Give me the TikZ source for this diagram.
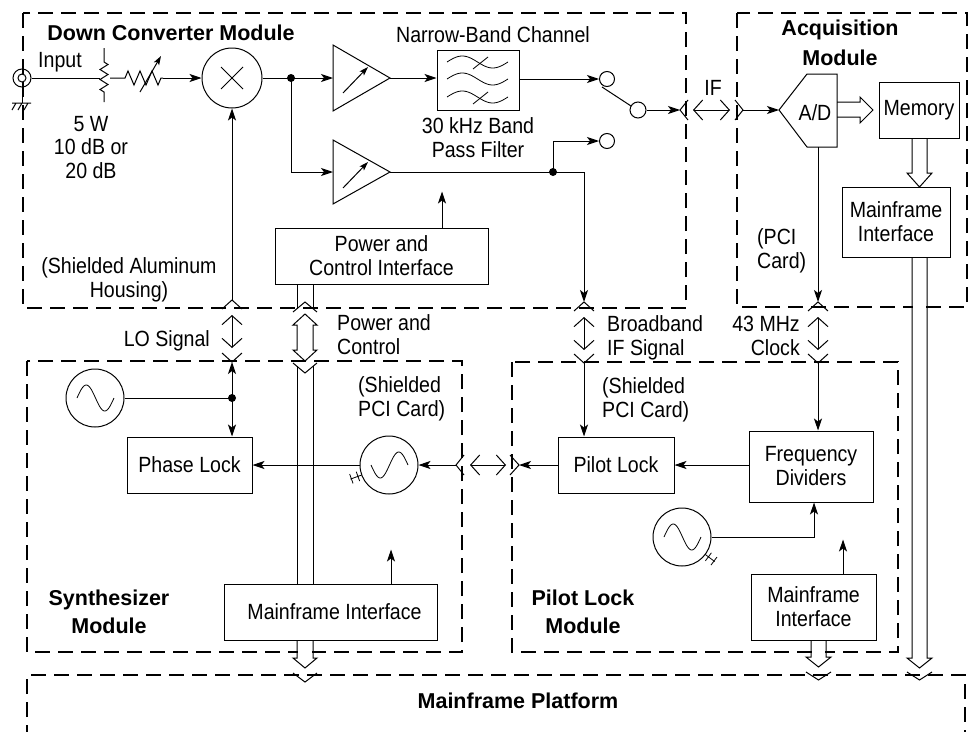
\documentclass[tikz,border=0pt]{standalone}
\usepackage{fontspec}
\setmainfont{Liberation Sans}[FakeStretch=0.89]
\newfontfamily\titlefam{Liberation Sans}
\usetikzlibrary{arrows.meta,calc}
\tikzset{
  ln/.style={line width=1pt},
  sigarr/.style={line width=1pt,-{Stealth[length=12pt,width=8pt,inset=3pt]}},
  smallarr/.style={line width=1pt,-{Stealth[length=9pt,width=6pt,inset=2pt]}},
  biarr/.style={line width=1pt,{Straight Barb[length=9pt,width=20pt]}-{Straight Barb[length=9pt,width=20pt]}},
  blk/.style={draw,line width=1pt,align=center,inner sep=0pt,font=\fontsize{22}{24}\selectfont},
  modbox/.style={line width=2.5pt,dash pattern=on 15pt off 8pt},
  jdot/.style={circle,fill,minimum size=8pt,inner sep=0pt},
  ring/.style={circle,draw,line width=1pt,inner sep=0pt},
  lbl/.style={inner sep=0pt,align=center,font=\fontsize{22}{24}\selectfont},
  ttl/.style={inner sep=0pt,align=center,font=\titlefam\bfseries\fontsize{21.5}{28}\selectfont},
  gnd/.pic={\draw[line width=0.8pt] (0,0)--(12,0) (4,-5)--(4,5) (11,-5)--(11,5);},
}
\begin{document}
\begin{tikzpicture}[x=1pt,y=-1pt]
\useasboundingbox (0,0) rectangle (969,731);
% ---------- module outlines ----------
\draw[modbox] (23,13) rectangle (686,308);
\draw[modbox] (737,13) rectangle (967,307);
\draw[modbox] (27,361) rectangle (462,652);
\draw[modbox] (512,362) rectangle (898,652);
\draw[modbox] (27,740) -- (27,675) -- (965,675) -- (965,740);
\fill[white] (912.6,296) rectangle (926.4,318);
\fill[white] (297.6,640) rectangle (312.4,658);
\fill[white] (811.6,640) rectangle (825.4,657);
% ---------- titles and labels (base = last line) ----------
\node[ttl,anchor=base] (tdcm) at (171,40) {Down Converter Module};
\node[ttl,anchor=base,font=\titlefam\bfseries\fontsize{21.5}{30}\selectfont] (tacq) at (840,65) {Acquisition\\Module};
\node[ttl,anchor=base] (tsyn) at (109,633) {Synthesizer\\Module};
\node[ttl,anchor=base] (tpil) at (583,633) {Pilot Lock\\Module};
\node[ttl,anchor=base] (tmfp) at (518,708) {Mainframe Platform};
\node[lbl,anchor=base] (inp) at (60,67) {Input};
\node[lbl,anchor=base,font=\fontsize{22}{23.3}\selectfont] (att) at (91,178) {5 W\\10 dB or\\20 dB};
\node[lbl,anchor=base] (nbc) at (493,42) {Narrow-Band Channel};
\node[lbl,anchor=base] (bpf) at (478,157) {30 kHz Band\\Pass Filter};
\node[lbl,anchor=base] (iflbl) at (713,95) {IF};
\node[lbl,anchor=base] (adl) at (815,120) {A/D};
\node[lbl,anchor=base west,align=left] (pcil) at (757,268) {(PCI\\Card)};
\node[lbl,anchor=base] (sah) at (129,297) {(Shielded Aluminum\\Housing)};
\node[lbl,anchor=base east] (lol) at (210,346) {LO Signal};
\node[lbl,anchor=base west,align=left] (pcl) at (337,354) {Power and\\Control};
\node[lbl,anchor=base west,align=left] (bbl) at (607,355) {Broadband\\IF Signal};
\node[lbl,anchor=base east,align=right] (ckl) at (800,355) {43 MHz\\Clock};
\node[lbl,anchor=base west,align=left] (spc) at (358,416) {(Shielded\\PCI Card)};
\node[lbl,anchor=base west,align=left] (ppc) at (602,417) {(Shielded\\PCI Card)};
% ---------- blocks ----------
\node[blk,minimum width=213pt,minimum height=56pt] (pci) at (381.5,256) {Power and\\Control Interface};
\node[blk,minimum width=80pt,minimum height=56pt] (mem) at (919,110) {Memory};
\node[blk,minimum width=108pt,minimum height=70pt] (mfa) at (896,222) {Mainframe\\Interface};
\node[blk,minimum width=125pt,minimum height=56pt] (plk) at (189.5,465) {Phase Lock};
\node[blk,minimum width=213pt,minimum height=56pt] (mfs) at (330.5,612) {\hspace*{8pt}Mainframe Interface};
\node[blk,minimum width=116pt,minimum height=56pt] (pil) at (616,465) {Pilot Lock};
\node[blk,minimum width=124pt,minimum height=71pt] (fdv) at (811,466.5) {Frequency\\Dividers};
\node[blk,minimum width=125pt,minimum height=66pt] (mfp) at (813.5,607) {Mainframe\\Interface};
\node[blk,minimum width=82pt,minimum height=60pt] (flt) at (478,80) {};
\node[ring,minimum size=60pt] (mix) at (232,78) {};
\node[ring,minimum size=58pt] (osa) at (95,398) {};
\node[ring,minimum size=58pt] (vco) at (389,465) {};
\node[ring,minimum size=58pt] (osb) at (682,537) {};
\node[ring,minimum size=15pt] (ta) at (607,79) {};
\node[ring,minimum size=15pt] (tb) at (607,141) {};
\node[ring,minimum size=16pt] (pv) at (638,110) {};
\node[ring,minimum size=18pt] (cx) at (22,78) {};
\node[ring,minimum size=8pt] (cxi) at (22,78) {};
\node[jdot] (da) at (291,78) {};
\node[jdot] (db) at (553,172) {};
\node[jdot] (dc) at (232,398) {};
% ---------- symbols ----------
\draw[ln] ($(mix)+(-11,-11)$) -- ($(mix)+(11,11)$) ($(mix)+(-11,11)$) -- ($(mix)+(11,-11)$);
\draw[ln] (333,45) -- (333,111) -- (390,78) -- cycle;
\draw[ln] (333,140) -- (333,204) -- (390,172) -- cycle;
\draw[smallarr] (343,93) -- (368,67);
\draw[smallarr] (343,188) -- (368,162);
\draw[ln] (779,110) -- (807,74) -- (837,74) -- (837,147) -- (807,147) -- cycle;
\coordinate (ad) at (779,110);
\coordinate (adb) at (818,147);
\foreach \yy in {62,79,97}{
  \draw[line width=0.8pt] plot[domain=0:360,samples=40,smooth] ({447+\x/360*61},{\yy-6*sin(\x)});}
\draw[line width=0.8pt] (473,69) -- (488,57) (473,104) -- (488,92);
\draw[line width=0.8pt] plot[domain=0:360,samples=40,smooth] ({77+\x/360*37},{398-13*sin(\x)});
\draw[line width=0.8pt] plot[domain=0:360,samples=40,smooth] ({371+\x/360*37},{465+13*sin(\x)});
\draw[line width=0.8pt] plot[domain=0:360,samples=40,smooth] ({664+\x/360*37},{537-13*sin(\x)});
\pic[rotate=200] at (361.7,475) {gnd};
\pic[rotate=-37] at (705.2,554.4) {gnd};
% coax ground
\draw[ln] (cx.south) -- (22,103);
\draw[ln] (12,103) -- (31,103) (16,103) -- (12,110) (22,103) -- (18,110) (28,103) -- (24,110);
% ---------- input chain ----------
\coordinate (ra) at (100,78);
\coordinate (rb) at (110,78);
\draw[ln] (cx.east) -- (ra);
\draw[ln] (104,48) -- (104,62) -- (108,64.5) -- (100,69.5) -- (108,74.5) -- (100,79.5) -- (108,84.5) -- (100,89.5) -- (104,92) -- (104,102);
\draw[ln] (rb) -- (125,78) -- (128,71) -- (134,85) -- (140,71) -- (146,85) -- (152,71) -- (158,85) -- (161,78) -- (163,78);
\draw[smallarr] (140,92) -- (161,56);
\coordinate (va) at (163,78);
\draw[sigarr] (va) -- (mix.west);
% ---------- down converter signal path ----------
\coordinate (aa) at (333,78);
\coordinate (ab) at (333,172);
\coordinate (aat) at (390,78);
\coordinate (abt) at (390,172);
\draw[ln] (mix.east) -- (da.center);
\draw[sigarr] (da.center) -- (aa);
\draw[sigarr] (da.center) |- (ab);
\draw[sigarr] (aat) -- (flt.west |- aat);
\draw[sigarr] (flt.east |- ta) -- (ta.west);
\draw[ln] (602,87) -- (pv.150);
\coordinate (ifs) at (680,110);
\draw[sigarr] (pv.east) -- (ifs);
\draw[ln] (688,100) -- (ifs) -- (688,120);
\coordinate (ifa) at (693,110);
\coordinate (ifb) at (730,110);
\draw[biarr] (ifa) -- (ifb);
\coordinate (ifr) at (743,110);
\draw[ln] (735,100) -- (ifr) -- (735,120);
\draw[sigarr] (ifr) -- (ad);
\draw[ln] (abt) -- (db.center);
\coordinate (bbs) at (584,302);
\draw[sigarr] (db.center) -- (584,172) -- (bbs);
\draw[sigarr] (db.center) |- (tb.west);
\draw[sigarr] ([xshift=60.5pt]pci.north) -- ++(0,-36);
% ---------- LO signal ----------
\coordinate (lor) at (232,300);
\draw[ln] (222,309) -- (lor) -- (242,309);
\draw[sigarr] (lor) -- (mix.south);
\coordinate (loa) at (232,315);
\coordinate (lob) at (232,348);
\draw[biarr] (loa) -- (lob);
\coordinate (lose) at (232,362);
\draw[ln] (222,353) -- (lose) -- (242,353);
\draw[sigarr] (dc.center) -- (lose);
\draw[sigarr] (dc.center) -- (plk.north -| dc);
\draw[ln] (osa.east) -- (dc.center);
% ---------- broadband IF ----------
\draw[ln] (574,311) -- (bbs) -- (594,311);
\coordinate (bba) at (584,317);
\coordinate (bbb) at (584,350);
\draw[biarr] (bba) -- (bbb);
\coordinate (bbr) at (584,363);
\draw[ln] (574,354) -- (bbr) -- (594,354);
\draw[sigarr] (bbr) -- (pil.north -| bbr);
% ---------- 43 MHz clock ----------
\coordinate (cks) at (818,302);
\draw[sigarr] (adb) -- (cks);
\draw[ln] (808,311) -- (cks) -- (828,311);
\coordinate (cka) at (818,317);
\coordinate (ckb) at (818,350);
\draw[biarr] (cka) -- (ckb);
\coordinate (ckr) at (818,363);
\draw[ln] (808,354) -- (ckr) -- (828,354);
\draw[sigarr] (ckr) -- (fdv.north -| ckr);
% ---------- pilot lock / synthesizer ----------
\draw[sigarr] (fdv.west |- pil.east) -- (pil.east);
\coordinate (pls) at (519,465);
\draw[sigarr] (pil.west) -- (pls);
\draw[ln] (510,455) -- (pls) -- (510,475);
\coordinate (pla) at (470,465);
\coordinate (plb) at (506,465);
\draw[biarr] (pla) -- (plb);
\coordinate (syr) at (456,465);
\draw[ln] (464,455) -- (syr) -- (464,475);
\draw[sigarr] (syr) -- (vco.east);
\draw[sigarr] (vco.west) -- (plk.east);
\draw[sigarr] (osb.east) -| ([xshift=3pt]fdv.south);
\draw[sigarr] ([xshift=29.5pt]mfp.north) -- ++(0,-34);
\draw[sigarr] ([xshift=60.5pt]mfs.north) -- ++(0,-34);
% ---------- buses ----------
\draw[ln] ([xshift=-84.5pt]pci.south) -- (297,308.7);
\draw[ln] ([xshift=-68.5pt]pci.south) -- (313,308.7);
\draw[ln] (293,312) -- (305,302) -- (317,312);
\draw[ln,fill=white] (305,314) -- (317,325) -- (313,325) -- (313,350) -- (317,350) -- (305,361) -- (293,350) -- (297,350) -- (297,325) -- (293,325) -- cycle;
\draw[ln] (293,363) -- (305,373) -- (317,363);
\draw[ln] (297,366.3) -- ([xshift=-33.5pt]mfs.north);
\draw[ln] (313,366.3) -- ([xshift=-17.5pt]mfs.north);
\draw[ln] ([xshift=-33.5pt]mfs.south) -- (297,658) -- (293,658) -- (305,668) -- (317,658) -- (313,658) -- ([xshift=-17.5pt]mfs.south);
\draw[ln] (293,673) -- (305,682) -- (317,673);
\draw[ln] ([xshift=-2.5pt]mfp.south) -- (811,657) -- (806,657) -- (818.5,667) -- (831,657) -- (826,657) -- ([xshift=12.5pt]mfp.south);
\draw[ln] (806,672) -- (818.5,680) -- (831,672);
\draw[ln] ([xshift=16pt]mfa.south) -- (912,658) -- (907,658) -- (919.5,668) -- (932,658) -- (927,658) -- ([xshift=31pt]mfa.south);
\draw[ln] (907,672) -- (919.5,680) -- (932,672);
\draw[ln] ([xshift=-7pt]mem.south) -- (912,173) -- (907,173) -- (919.5,187) -- (932,173) -- (927,173) -- ([xshift=8pt]mem.south);
\draw[ln] (837,102) -- (860,102) -- (860,97) -- (873,110) -- (860,123) -- (860,117) -- (837,117);
\end{tikzpicture}
\end{document}
